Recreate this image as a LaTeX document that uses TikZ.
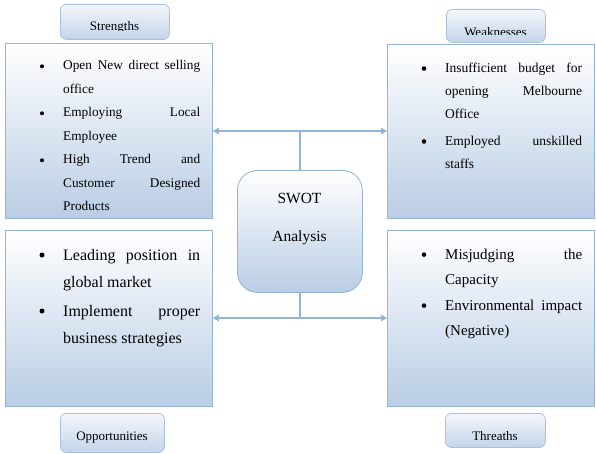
\documentclass[tikz,border=0pt]{standalone}
\usepackage{fontspec}
\setmainfont{Liberation Serif}
\usetikzlibrary{arrows.meta}
\definecolor{bord}{HTML}{95B3D7}
\definecolor{fillb}{HTML}{B9CDE5}
\definecolor{lblbord}{HTML}{A9C1DE}
\definecolor{lbltop}{HTML}{F4F7FB}
\definecolor{lblbot}{HTML}{C3D4EA}
\newcommand\itemtext[3]{\vtop{\hsize=#1\baselineskip=#2\tolerance=10000\emergencystretch=20pt\parindent=0pt\noindent #3\par}}
\begin{document}
\begin{tikzpicture}[x=1pt,y=-1pt,
  mainbox/.style={draw=bord, line width=0.8pt, top color=white, bottom color=fillb, inner sep=0pt, anchor=north west},
  lblbox/.style={draw=lblbord, line width=0.8pt, rounded corners=6pt, top color=lbltop, bottom color=lblbot, inner sep=0pt, anchor=north west},
  lbltext/.style={anchor=base, inner sep=0pt, font=\fontsize{13}{15}\selectfont},
  bul/.style={circle, fill=black, inner sep=0pt, minimum size=#1},
  itm/.style={anchor=base west, inner sep=0pt},
  conn/.style={draw=bord, line width=1.2pt},
  tip/.style={-{Triangle[length=6pt,width=6.5pt]}}
]
\useasboundingbox (0,0) rectangle (596,454);

% label boxes
\node[lblbox, minimum width=109pt, minimum height=35pt] (Sl) at (60,4) {};
\node[lblbox, minimum width=99pt, minimum height=33pt] (Wl) at (446,9) {};
\node[lblbox, minimum width=104pt, minimum height=39pt] (Ol) at (60,413) {};
\node[lblbox, minimum width=100pt, minimum height=34pt] (Tl) at (445,413) {};
\begin{scope}
  \clip (60,0) rectangle (169,31);
  \node[lbltext] (St) at (114.5,30.5) {Strengths};
\end{scope}
\begin{scope}
  \clip (446,0) rectangle (545,35);
  \node[lbltext] (Wt) at (495.5,36.5) {Weaknesses};
\end{scope}
\node[lbltext] (Ot) at (112,440) {Opportunities};
\node[lbltext] (Tt) at (495,440) {Threaths};

% main boxes
\node[mainbox, minimum width=207pt, minimum height=175pt] (S) at (5,43) {};
\node[mainbox, minimum width=207pt, minimum height=174pt] (W) at (387,44) {};
\node[mainbox, minimum width=207pt, minimum height=176pt] (O) at (5,230) {};
\node[mainbox, minimum width=207pt, minimum height=176pt] (T) at (387,230) {};
\node[draw=bord, line width=0.8pt, rounded corners=20pt, top color=white, bottom color=fillb,
      minimum width=125pt, minimum height=122pt, inner sep=0pt, anchor=north west] (C) at (237,170) {};
\node[anchor=base, inner sep=0pt, font=\fontsize{15.5}{18}\selectfont] (C1) at (299.5,204) {SWOT};
\node[anchor=base, inner sep=0pt, font=\fontsize{15.5}{18}\selectfont] (C2) at (299.5,241) {Analysis};

% Strengths items
\begin{scope}[font=\fontsize{13.3}{23.4}\selectfont]
  \node[bul=4pt] (Sb1) at (42,66.3) {};
  \node[itm] (Si1) at (63,70) {\itemtext{137pt}{23.4pt}{Open New direct selling\linebreak office}};
  \node[bul=4pt] (Sb2) at (42,113.3) {};
  \node[itm] (Si2) at (63,117) {\itemtext{137pt}{23.4pt}{Employing Local\linebreak Employee}};
  \node[bul=4pt] (Sb3) at (42,160.3) {};
  \node[itm] (Si3) at (63,164) {\itemtext{137pt}{23.4pt}{High Trend and\linebreak Customer Designed\linebreak Products}};
\end{scope}

% Weaknesses items
\begin{scope}[font=\fontsize{13.5}{23}\selectfont]
  \node[bul=4.6pt] (Wb1) at (424,68.5) {};
  \node[itm] (Wi1) at (445,73) {\itemtext{137pt}{23pt}{Insufficient budget for\linebreak opening Melbourne\linebreak Office}};
  \node[bul=4.6pt] (Wb2) at (424,141.5) {};
  \node[itm] (Wi2) at (445,146) {\itemtext{137pt}{22.5pt}{Employed unskilled\linebreak staffs}};
\end{scope}

% Opportunities items
\begin{scope}[font=\fontsize{16}{27.7}\selectfont]
  \node[bul=5pt] (Ob1) at (42,255) {};
  \node[itm] (Oi1) at (63,260) {\itemtext{137pt}{27.8pt}{Leading position in\linebreak global market}};
  \node[bul=5pt] (Ob2) at (42,311) {};
  \node[itm] (Oi2) at (63,316) {\itemtext{137pt}{27.2pt}{Implement proper\linebreak business strategies}};
\end{scope}

% Threats items
\begin{scope}[font=\fontsize{15}{25.3}\selectfont]
  \node[bul=4.6pt] (Tb1) at (424,254.6) {};
  \node[itm] (Ti1) at (445,259) {\itemtext{137pt}{25pt}{Misjudging the\linebreak Capacity}};
  \node[bul=4.6pt] (Tb2) at (424,305.6) {};
  \node[itm] (Ti2) at (445,310) {\itemtext{137pt}{25pt}{Environmental impact\linebreak (Negative)}};
\end{scope}

% connectors
\coordinate (jt) at (300,131);
\coordinate (jb) at (300,318);
\draw[conn] (C.north -| jt) -- (jt);
\draw[conn,tip] (jt) -- (jt -| S.east);
\draw[conn,tip] (jt) -- (jt -| W.west);
\draw[conn] (C.south -| jb) -- (jb);
\draw[conn,tip] (jb) -- (jb -| O.east);
\draw[conn,tip] (jb) -- (jb -| T.west);
\end{tikzpicture}
\end{document}
